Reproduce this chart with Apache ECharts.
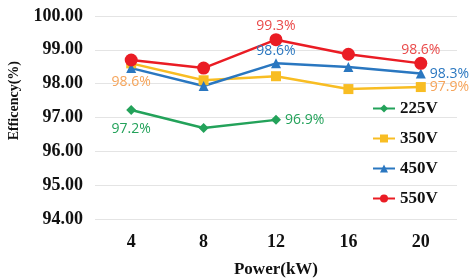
<!DOCTYPE html>
<html>
<head>
<meta charset="utf-8">
<script src="https://cdn.jsdelivr.net/npm/echarts@6/dist/echarts.min.js"></script>
<style>
  html, body { margin: 0; padding: 0; background: #fff; }
  #main { width: 474px; height: 280px; }
</style>
</head>
<body>
<div id="main"></div>
<script>
var powerKW = ['4', '8', '12', '16', '20']
var v225 = [97.22, 96.69, 96.93, null, null]
var v350 = [98.6, 98.1, 98.22, 97.84, 97.9]
var v450 = [98.46, 97.93, 98.6, 98.49, 98.3]
var v550 = [98.7, 98.46, 99.3, 98.87, 98.6]

// 哪些点显示数值标签
var lab225 = [true, false, true, false, false]
var lab350 = [true, false, false, false, true]
var lab450 = [false, false, true, false, true]
var lab550 = [false, false, true, false, true]

var serif = '"Liberation Serif", "Times New Roman", serif'
var sans = '"Open Sans", "DejaVu Sans", sans-serif'

function pts (vals, flags, pos, color) {
  return vals.map(function (v, i) {
    var p = pos[i] || 'top'
    return {
      value: v,
      label: {
        show: flags[i],
        position: p,
        distance: p === 'top' ? 0 : (p === 'bottom' ? 7 : 4),
        color: color,
        fontFamily: sans,
        fontSize: 14,
        formatter: function (p) { return p.value.toFixed(1) + '%' }
      }
    }
  })
}

var chartDom = document.getElementById('main')
var myChart = echarts.init(chartDom)

var option = {
  animation: false,
  grid: { left: 95, right: 17, top: 16, bottom: 61, outerBoundsMode: 'none' },
  legend: {
    orient: 'vertical',
    left: 367,
    top: 95,
    itemGap: 13,
    itemWidth: 22,
    itemHeight: 10,
    textStyle: { fontFamily: serif, fontWeight: 'bold', fontSize: 17, color: '#111' },
    data: ['225V', '350V', '450V', '550V']
  },
  xAxis: {
    type: 'category',
    data: powerKW,
    name: 'Power(kW)',
    nameLocation: 'middle',
    nameGap: 42,
    nameTextStyle: { fontFamily: serif, fontWeight: 'bold', fontSize: 17, color: '#111' },
    axisLine: { show: false },
    axisTick: { show: false },
    axisLabel: { fontFamily: serif, fontWeight: 'bold', fontSize: 18, color: '#111', margin: 14 }
  },
  yAxis: {
    type: 'value',
    min: 94,
    max: 100,
    interval: 1,
    axisLine: { show: false },
    axisTick: { show: false },
    splitLine: { lineStyle: { color: '#e4e4e4' } },
    axisLabel: {
      fontFamily: serif, fontWeight: 'bold', fontSize: 18, color: '#111', margin: 12,
      formatter: function (v) { return v.toFixed(2) }
    }
  },
  graphic: [{
    type: 'text',
    left: 7,
    top: 61,
    rotation: Math.PI / 2,
    style: {
      text: 'Efficency(%)',
      font: 'bold 14px ' + serif,
      fill: '#111'
    }
  }],
  series: [
    {
      name: '225V', type: 'line',
      symbol: 'diamond', symbolSize: 10,
      itemStyle: { color: '#23a25a' },
      lineStyle: { width: 2.5 },
      data: pts(v225, lab225, ['bottom', null, 'right'], '#23a25a')
    },
    {
      name: '350V', type: 'line',
      symbol: 'rect', symbolSize: 10,
      itemStyle: { color: '#f8bd23' },
      lineStyle: { width: 2.5 },
      data: pts(v350, lab350, ['bottom', null, null, null, 'right'], '#f5a45a')
    },
    {
      name: '450V', type: 'line',
      symbol: 'triangle', symbolSize: 10,
      itemStyle: { color: '#2a77c0' },
      lineStyle: { width: 2.5 },
      data: pts(v450, lab450, [null, null, 'top', null, 'right'], '#2a77c0')
    },
    {
      name: '550V', type: 'line',
      symbol: 'circle', symbolSize: 13,
      itemStyle: { color: '#ea1c24' },
      lineStyle: { width: 2.5 },
      data: pts(v550, lab550, [null, null, 'top', null, 'top'], '#ea4a4a')
    }
  ]
}

option && myChart.setOption(option)
</script>
</body>
</html>
